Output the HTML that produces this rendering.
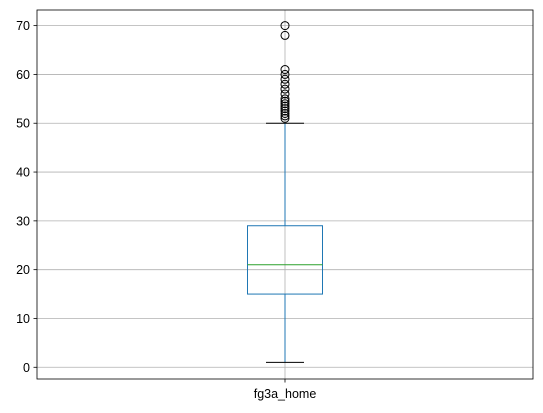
<!DOCTYPE html>
<html><head><meta charset="utf-8"><style>body{margin:0;background:#fff}svg{display:block}</style></head>
<body>
<svg id="chart" width="543" height="413" xmlns="http://www.w3.org/2000/svg" font-family="Liberation Sans, DejaVu Sans, sans-serif"></svg>
<script>
const categories = ["fg3a_home"];
const q1 = [15];
const median = [21];
const q3 = [29];
const whiskerLow = [1];
const whiskerHigh = [50];
const outliers = [[51,51.5,52,52.5,53,53.5,54,54.5,55,56,57,58,59,60,61,68,70]];
const yTicks = [0,10,20,30,40,50,60,70];
const yMin = -2.4, yMax = 73.2;
const L = 37, R = 533, T = 10, B = 379;
const NS = "http://www.w3.org/2000/svg";
const svg = document.getElementById('chart');
function y(v){ return B - (v - yMin) / (yMax - yMin) * (B - T); }
function x(i){ return L + (R - L) * (i + 0.5) / categories.length; }
function mk(tag, attrs, parent){ const e = document.createElementNS(NS, tag); for (const k in attrs) e.setAttribute(k, attrs[k]); (parent||svg).appendChild(e); return e; }
yTicks.forEach(t => {
  const g = mk('line', {x1:L, x2:R, y1:y(t), y2:y(t), stroke:'#b0b0b0', 'stroke-width':0.8});
  
  
  const tk = mk('line', {x1:L-3.5, x2:L, y1:y(t), y2:y(t), stroke:'#000', 'stroke-width':0.8});
  
  
  const lb = mk('text', {x:L-7, y:y(t)+4.5, 'text-anchor':'end', 'font-size':12.5, fill:'#000'});
  lb.textContent = t;
  
  
});
categories.forEach((c, i) => {
  const cx = x(i);
  const vg = mk('line', {x1:cx, x2:cx, y1:T, y2:B, stroke:'#b0b0b0', 'stroke-width':0.8});
  
  
  const hw = 37.5, cw = 19;
  const w1 = mk('line', {x1:cx, x2:cx, y1:y(q1[i]), y2:y(whiskerLow[i]), stroke:'#1f77b4', 'stroke-width':1});
  
  
  const w2 = mk('line', {x1:cx, x2:cx, y1:y(q3[i]), y2:y(whiskerHigh[i]), stroke:'#1f77b4', 'stroke-width':1});
  
  
  const c1 = mk('line', {x1:cx-cw, x2:cx+cw, y1:y(whiskerLow[i]), y2:y(whiskerLow[i]), stroke:'#000', 'stroke-width':1});
  
  
  const c2 = mk('line', {x1:cx-cw, x2:cx+cw, y1:y(whiskerHigh[i]), y2:y(whiskerHigh[i]), stroke:'#000', 'stroke-width':1});
  
  
  const box = mk('rect', {x:cx-hw, y:y(q3[i]), width:2*hw, height:y(q1[i])-y(q3[i]), fill:'none', stroke:'#1f77b4', 'stroke-width':1});
  
  
  const md = mk('line', {x1:cx-hw, x2:cx+hw, y1:y(median[i]), y2:y(median[i]), stroke:'#2ca02c', 'stroke-width':1});
  
  
  outliers[i].forEach(v => {
    const o = mk('circle', {cx:cx, cy:y(v), r:4, fill:'none', stroke:'#000', 'stroke-width':1});
    
    
  });
  const xt = mk('line', {x1:cx, x2:cx, y1:B, y2:B+3.5, stroke:'#000', 'stroke-width':0.8});
  
  
  const xl = mk('text', {x:cx, y:B+19, 'text-anchor':'middle', 'font-size':12.5, fill:'#000'});
  xl.textContent = c;
  
  
});
const frame = mk('rect', {x:L, y:T, width:R-L, height:B-T, fill:'none', stroke:'#000', 'stroke-width':0.8});


</script>
</body></html>
